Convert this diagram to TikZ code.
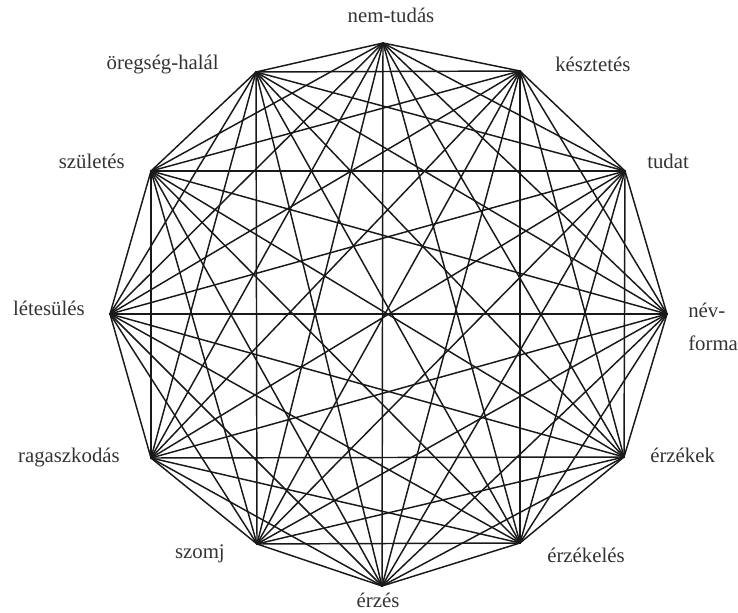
\documentclass[tikz,border=0pt]{standalone}
\usepackage{fontspec}
\setmainfont{Liberation Serif}
\usetikzlibrary{calc}

\begin{document}
\begin{tikzpicture}[
  x=0.75pt, y=-0.75pt,
  link/.style={line width=1.1pt, color=black!90, line cap=round},
  tag/.style={font=\fontsize{15.6}{24.5}\selectfont, color=black!80,
    inner sep=0pt}
]
\useasboundingbox (0,0) rectangle (738,613);

%% ═══════════════════════════════════════════════
%% Csúcsok
%% ═══════════════════════════════════════════════
\coordinate (v1)  at (383,43);   % nem-tudás
\coordinate (v2)  at (520,71);   % késztetés
\coordinate (v3)  at (625,171);  % tudat
\coordinate (v4)  at (667,314);  % név-forma
\coordinate (v5)  at (624,457);  % érzékek
\coordinate (v6)  at (520,543);  % érzékelés
\coordinate (v7)  at (382,586);  % érzés
\coordinate (v8)  at (257,544);  % szomj
\coordinate (v9)  at (151,458);  % ragaszkodás
\coordinate (v10) at (110,314);  % létesülés
\coordinate (v11) at (151,171);  % születés
\coordinate (v12) at (256,72);   % öregség-halál

%% ═══════════════════════════════════════════════
%% Élek (minden csúcspár)
%% ═══════════════════════════════════════════════
\foreach \i in {1,...,11}{
  \pgfmathtruncatemacro{\k}{\i+1}
  \foreach \j in {\k,...,12}{
    \draw[link] (v\i) -- (v\j);
  }
}

%% ═══════════════════════════════════════════════
%% Feliratok
%% ═══════════════════════════════════════════════
\node[tag, anchor=base] (nemtudas) at (391,23) {nem-tudás};
\node[tag, anchor=base west] (keszt) at (555,72) {késztetés};
\node[tag, anchor=base west] (tudat) at (647,168) {tudat};
\node[tag, anchor=base west, align=left] (nevforma) at (688,350)
  {név-\\forma};
\node[tag, anchor=base west] (erzekek) at (650,462) {érzékek};
\node[tag, anchor=base west] (erzekeles) at (547,562) {érzékelés};
\node[tag, anchor=base] (erzes) at (378,607) {érzés};
\node[tag, anchor=base east] (szomj) at (225,558) {szomj};
\node[tag, anchor=base east] (ragasz) at (120,462) {ragaszkodás};
\node[tag, anchor=base east] (letes) at (85,315) {létesülés};
\node[tag, anchor=base east] (szul) at (125,168) {születés};
\node[tag, anchor=base east] (oreg) at (219,70) {öregség-halál};

\end{tikzpicture}
\end{document}
